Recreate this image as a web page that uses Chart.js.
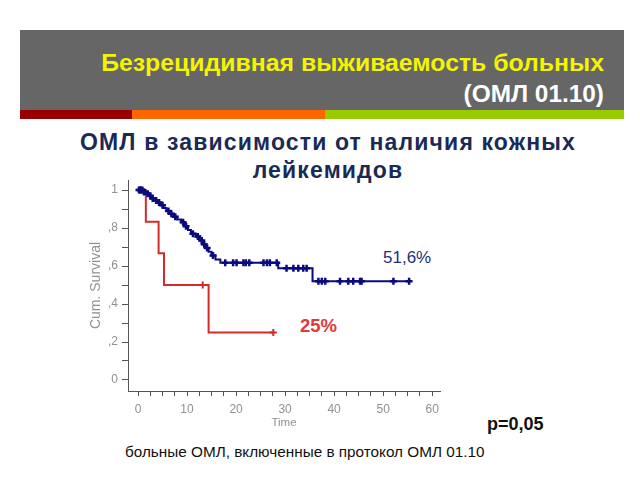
<!DOCTYPE html>
<html>
<head>
<meta charset="utf-8">
<script src="https://cdn.jsdelivr.net/npm/chart.js@4"></script>
<style>
  body { margin: 0; width: 640px; height: 480px; background: #fff; position: relative; overflow: hidden; font-family: "Liberation Sans", Arial, sans-serif; }
  .abs { position: absolute; white-space: nowrap; }
  #banner { left: 20px; top: 30px; width: 604px; height: 80px; background: #666666; }
  #t1 { right: 36px; top: 49px; font-size: 24.8px; font-weight: bold; color: #f4f400; }
  #t2 { right: 36px; top: 80px; font-size: 24.4px; font-weight: bold; color: #fff; }
  .strip { top: 110px; height: 9px; }
  #sub { left: 0; width: 656px; top: 128px; text-align: center; font-size: 23px; letter-spacing: 1.15px; font-weight: bold; color: #1a2a55; line-height: 28px; }
  #c { position: absolute; left: 0; top: 0; }
</style>
</head>
<body>
<div id="banner" class="abs"></div>
<div id="t1" class="abs">Безрецидивная выживаемость больных</div>
<div id="t2" class="abs">(ОМЛ 01.10)</div>
<div class="abs strip" style="left:20px;width:112px;background:#990000"></div>
<div class="abs strip" style="left:132px;width:193px;background:#ff6600"></div>
<div class="abs strip" style="left:325px;width:299px;background:#99cc00"></div>
<div id="sub" class="abs">ОМЛ в зависимости от наличия кожных<br>лейкемидов</div>
<div class="abs" style="left:383px;top:248px;font-size:17px;color:#1f2f78">51,6%</div>
<div class="abs" style="left:300px;top:315px;font-size:18.5px;font-weight:bold;color:#e03a3a">25%</div>
<div class="abs" style="left:487px;top:414px;font-size:18px;font-weight:bold;color:#111">p=0,05</div>
<div class="abs" style="left:125px;top:443px;font-size:15.3px;color:#111">больные ОМЛ, включенные в протокол ОМЛ 01.10</div>
<canvas id="c" width="640" height="480"></canvas>
<script>
// Kaplan-Meier: без кожных лейкемидов (синяя)
const blueTimes = [0, 1.0, 1.5, 2.2, 2.8, 3.4, 4.0, 4.6, 5.2, 5.8, 6.5, 7.2, 8.0, 8.8, 9.5, 10.2, 10.8, 11.8, 12.6, 13.2, 13.8, 14.4, 15.0, 15.8, 16.8, 28.6, 35.6, 55.3];
const blueSurv = [1, 0.99, 0.98, 0.97, 0.955, 0.945, 0.935, 0.92, 0.905, 0.89, 0.875, 0.86, 0.845, 0.83, 0.81, 0.79, 0.77, 0.755, 0.735, 0.715, 0.695, 0.675, 0.655, 0.635, 0.617, 0.588, 0.52, 0.52];
const blueCensor = [0.2, 0.4, 0.6, 0.9, 1.2, 2.0, 2.5, 3.0, 3.7, 4.3, 5.0, 6.2, 6.8, 7.6, 9.2, 9.8, 11.2, 12.2, 13.0, 13.5, 14.1, 15.3,
  17.8, 19.4, 20.1, 21.5, 22.0, 22.7, 25.6, 26.3, 26.9, 28.3,
  30.3, 31.7, 32.7, 33.7, 34.4,
  36.8, 37.5, 38.2, 41.2, 42.9, 43.9, 45.3, 45.6, 52.1, 55.3];

// с кожными лейкемидами (красная)
const redTimes = [0, 1.6, 4.2, 5.3, 14.4, 27.6];
const redSurv = [1, 0.833, 0.667, 0.5, 0.25, 0.25];
const redCensor = [13.2, 27.6];

const xTickValues = [0, 2.5, 5, 7.5, 10, 12.5, 15, 17.5, 20, 22.5, 25, 27.5, 30, 32.5, 35, 37.5, 40, 42.5, 45, 47.5, 50, 52.5, 55, 57.5, 60];
const yTickValues = [0, 0.1, 0.2, 0.3, 0.4, 0.5, 0.6, 0.7, 0.8, 0.9, 1];
const yTickLabels = {0: '0', 0.2: ',2', 0.4: ',4', 0.6: ',6', 0.8: ',8', 1: '1'};

const BLUE = '#0a0a80';
const RED = '#d42a2a';
const GRAY = '#909090';

function survAt(times, surv, t) {
  let s = surv[0];
  for (let i = 0; i < times.length; i++) {
    if (times[i] <= t) s = surv[i];
  }
  return s;
}

const toPts = (xs, ys) => xs.map((x, i) => ({ x: x, y: ys[i] }));

const tickFont = { family: '"Liberation Sans", Arial, sans-serif', size: 12 };

new Chart(document.getElementById('c'), {
  type: 'line',
  data: {
    datasets: [
      { data: toPts(blueTimes, blueSurv), borderColor: BLUE, borderWidth: 2, stepped: true, pointRadius: 0 },
      { data: blueCensor.map(t => ({ x: t, y: survAt(blueTimes, blueSurv, t) })), showLine: false,
        pointStyle: 'cross', pointRadius: 3.5, borderColor: BLUE, borderWidth: 2.5 },
      { data: toPts(redTimes, redSurv), borderColor: RED, borderWidth: 2, stepped: true, pointRadius: 0 },
      { data: redCensor.map(t => ({ x: t, y: survAt(redTimes, redSurv, t) })), showLine: false,
        pointStyle: 'cross', pointRadius: 3.5, borderColor: RED, borderWidth: 2 }
    ]
  },
  options: {
    responsive: false,
    animation: false,
    devicePixelRatio: 1,
    layout: { padding: { left: 84, top: 180, right: 200, bottom: 46 } },
    plugins: { legend: { display: false }, tooltip: { enabled: false } },
    scales: {
      x: {
        type: 'linear',
        min: -2.04,
        max: 61.6,
        afterBuildTicks: s => { s.ticks = xTickValues.map(v => ({ value: v })); },
        afterFit: s => { s.height = 43; },
        grid: { drawOnChartArea: false, drawTicks: true, tickLength: 5, color: '#555' },
        border: { color: '#555', width: 1 },
        ticks: { padding: 6, color: GRAY, font: tickFont, maxRotation: 0, autoSkip: false,
          callback: v => (v % 10 === 0 ? String(v) : '') },
        title: { display: true, text: 'Time', color: GRAY, font: { family: '"Liberation Sans", Arial, sans-serif', size: 11.5 } }
      },
      y: {
        type: 'linear',
        min: -0.058,
        max: 1.053,
        afterBuildTicks: s => { s.ticks = yTickValues.map(v => ({ value: v })); },
        afterFit: s => { s.width = 44; },
        grid: { drawOnChartArea: false, drawTicks: true, tickLength: 6, color: '#555' },
        border: { color: '#555', width: 1 },
        ticks: { padding: 4, color: GRAY, font: tickFont, autoSkip: false,
          callback: v => yTickLabels[Math.round(v * 10) / 10] || '' },
        title: { display: true, text: 'Cum. Survival', color: GRAY, font: { family: '"Liberation Sans", Arial, sans-serif', size: 14 } }
      }
    }
  }
});
</script>
</body>
</html>
